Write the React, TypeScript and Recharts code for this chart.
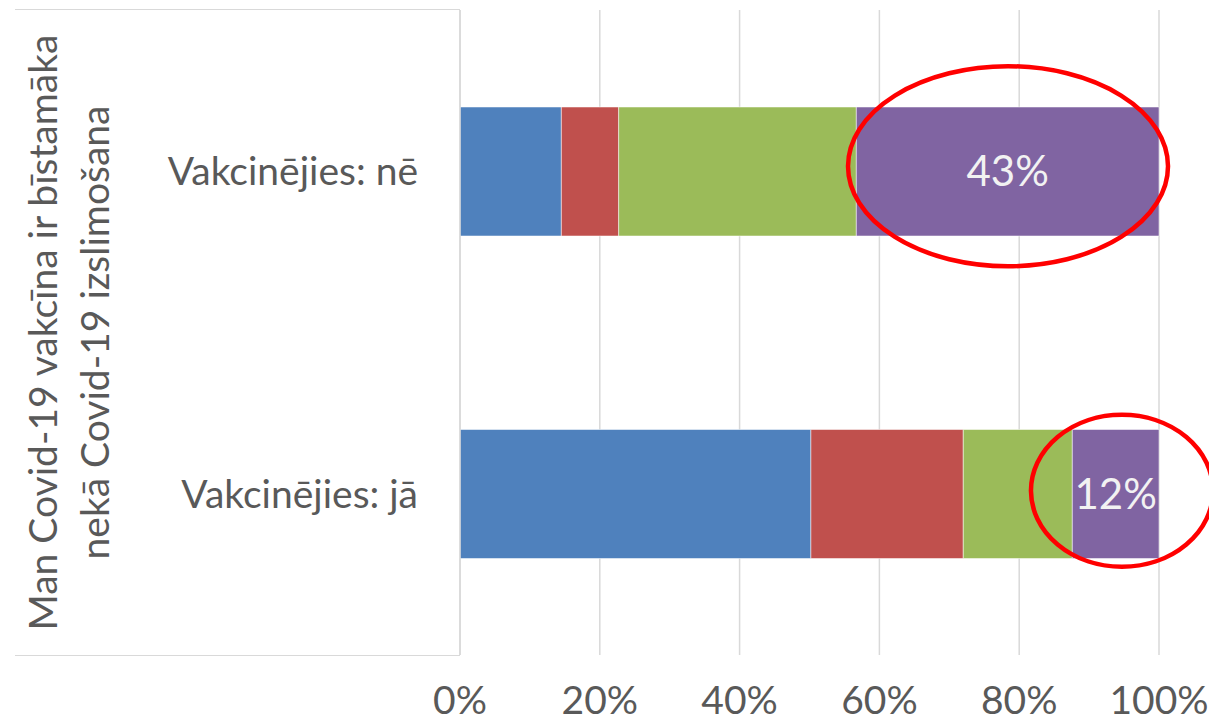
import React from "react";
import {
  Bar,
  BarChart,
  CartesianGrid,
  LabelList,
  ReferenceDot,
  XAxis,
  YAxis,
} from "recharts";

// categories (top to bottom) and the four stacked shares, in %
const categories = ["Vakcinējies: nē", "Vakcinējies: jā"];
const fullyDisagree = [14.5, 50.2];
const ratherDisagree = [8.2, 21.8];
const ratherAgree = [34.0, 15.6];
const fullyAgree = [43.3, 12.4];
const xTicks = [0, 20, 40, 60, 80, 100];
const axisTitle = ["Man Covid-19 vakcīna ir bīstamāka", "nekā Covid-19 izslimošana"];

const data = categories.map((name, i) => ({
  name,
  a: fullyDisagree[i],
  b: ratherDisagree[i],
  c: ratherAgree[i],
  d: fullyAgree[i],
}));

const FONT = "Lato, 'Open Sans', sans-serif";
const TEXT = "#595959";
const GRID = "#D9D9D9";

const AxisTitle = (props: any) => {
  const vb = props.viewBox;
  const cy = vb.y + vb.height / 2;
  return (
    <text
      transform={`translate(${vb.x},${cy}) rotate(-90)`}
      textAnchor="middle"
      fill={TEXT}
      fontSize={39}
      fontFamily={FONT}
    >
      <tspan x={0} y={57}>{axisTitle[0]}</tspan>
      <tspan x={0} y={109}>{axisTitle[1]}</tspan>
    </text>
  );
};

// red hand-drawn style ring around a segment
const ellipse = (rx: number, ry: number, dy: number) => (props: any) => (
  <ellipse
    cx={props.cx}
    cy={props.cy + dy}
    rx={rx}
    ry={ry}
    fill="none"
    stroke="#FF0000"
    strokeWidth={4.5}
  />
);

const segStroke = "rgba(255,255,255,0.5)";

export default function App() {
  return (
    <div style={{ position: "absolute", left: 0, top: 0, width: 1209, height: 725, background: "#fff" }}>
      {/* box around the category axis */}
      <div
        style={{
          position: "absolute",
          left: 15,
          top: 9,
          width: 445,
          height: 645,
          borderTop: `1.5px solid ${GRID}`,
          borderBottom: `1.5px solid ${GRID}`,
        }}
      />
      <div style={{ position: "absolute", left: 0, top: 0 }}>
        <BarChart
          width={1209}
          height={725}
          data={data}
          layout="vertical"
          margin={{ top: 10, right: 50, bottom: 0, left: 0 }}
        >
          <CartesianGrid horizontal={false} vertical stroke={GRID} strokeWidth={1.5} />
          <XAxis
            type="number"
            domain={[0, 100]}
            ticks={xTicks}
            tickFormatter={(v) => `${v}%`}
            axisLine={false}
            tickLine={false}
            height={70}
            tickMargin={25}
            tick={{ fill: TEXT, fontSize: 39, fontFamily: FONT }}
          />
          <YAxis
            type="category"
            dataKey="name"
            width={460}
            axisLine={{ stroke: GRID, strokeWidth: 1.5 }}
            tickLine={false}
            tickMargin={36}
            tick={{ fill: TEXT, fontSize: 39, fontFamily: FONT }}
            label={<AxisTitle />}
          />
          <Bar dataKey="a" stackId="s" fill="#4F81BD" stroke={segStroke} barSize={129} isAnimationActive={false} />
          <Bar dataKey="b" stackId="s" fill="#C0504D" stroke={segStroke} barSize={129} isAnimationActive={false} />
          <Bar dataKey="c" stackId="s" fill="#9BBB59" stroke={segStroke} barSize={129} isAnimationActive={false} />
          <Bar dataKey="d" stackId="s" fill="#8064A2" stroke={segStroke} barSize={129} isAnimationActive={false}>
            <LabelList
              dataKey="d"
              position="center"
              formatter={(v: any) => `${Math.round(v)}%`}
              fill="#F2F2F2"
              fontSize={42}
              fontFamily={FONT}
            />
          </Bar>
          <ReferenceDot x={78.4} y={categories[0]} r={1} ifOverflow="visible" shape={ellipse(160, 100, -5)} />
          <ReferenceDot x={94.7} y={categories[1]} r={1} ifOverflow="visible" shape={ellipse(91, 76, -3)} />
        </BarChart>
      </div>
    </div>
  );
}
